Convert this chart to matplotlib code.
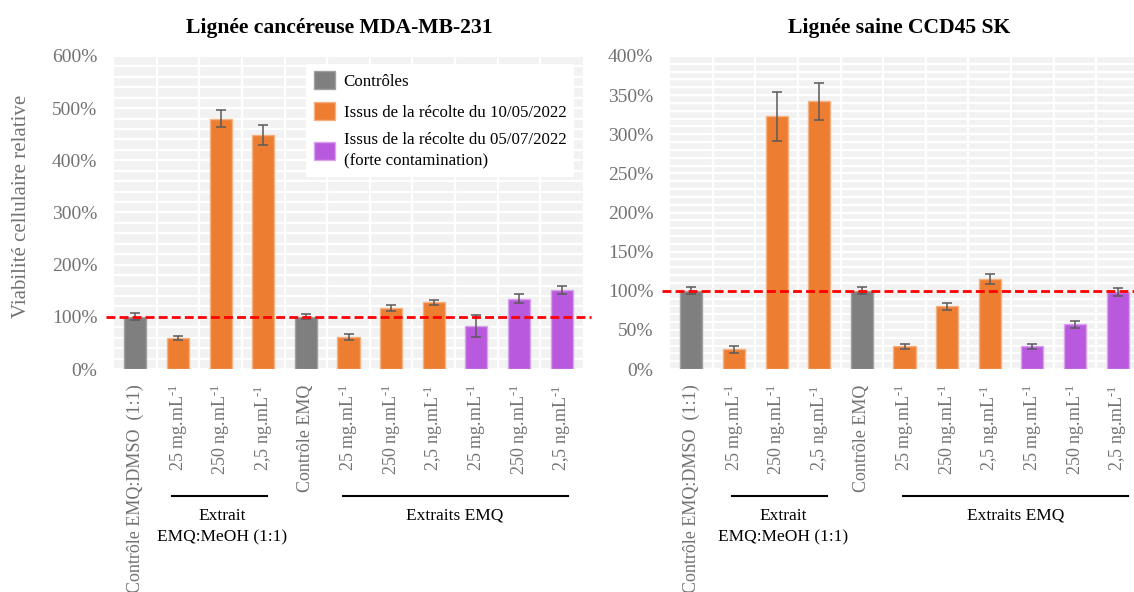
import matplotlib
matplotlib.use("Agg")
import matplotlib.pyplot as plt
from matplotlib.patches import Patch
from matplotlib.lines import Line2D
import numpy as np

plt.rcParams["font.family"] = ["Liberation Serif", "DejaVu Serif"]
plt.rcParams["mathtext.fontset"] = "custom"
plt.rcParams["mathtext.rm"] = "Liberation Serif"
plt.rcParams["mathtext.it"] = "Liberation Serif:italic"

# ---- data ----
categories = [
    "Contrôle EMQ:DMSO  (1:1)",
    "25 mg.mL$^{\\text{-}1}$", "250 ng.mL$^{\\text{-}1}$", "2,5 ng.mL$^{\\text{-}1}$",
    "Contrôle EMQ",
    "25 mg.mL$^{\\text{-}1}$", "250 ng.mL$^{\\text{-}1}$", "2,5 ng.mL$^{\\text{-}1}$",
    "25 mg.mL$^{\\text{-}1}$", "250 ng.mL$^{\\text{-}1}$", "2,5 ng.mL$^{\\text{-}1}$",
]
groups = ["ctrl", "may", "may", "may", "ctrl", "may", "may", "may", "jul", "jul", "jul"]

mda_values = [100, 60, 480, 449, 100, 61, 117, 128, 82, 135, 151]
mda_errors = [7, 3.5, 16, 19, 4.5, 6, 6.5, 5, 21, 9, 8]

ccd_values = [100, 25, 323, 342, 100, 29, 80, 115, 29, 57, 98]
ccd_errors = [4.5, 5, 31, 24, 4.5, 3, 4, 6, 3, 4.7, 5]

legend_labels = [
    "Contrôles",
    "Issus de la récolte du 10/05/2022",
    "Issus de la récolte du 05/07/2022\n(forte contamination)",
]

# ---- styles ----
fill = {"ctrl": "#7f7f7f", "may": "#ed7d31", "jul": "#b95ade"}
edge = {"ctrl": "#a0a0a0", "may": "#f4b183", "jul": "#d9a3ec"}
tick_grey = "#727272"
W, H = 1134, 592

fig = plt.figure(figsize=(W / 100, H / 100), dpi=100)


def fx(px):
    return px / W


def fy(px):
    return 1 - px / H


def panel(left_px, values, errors, ymax, ystep, minor_step, title, title_x):
    ax = fig.add_axes([fx(left_px), fy(369), fx(469), 313 / H])
    x = np.arange(len(values))
    ax.set_facecolor("#f2f2f2")
    ax.set_axisbelow(True)
    ax.bar(x, values, width=0.52,
           color=[fill[g] for g in groups],
           edgecolor=[edge[g] for g in groups], linewidth=1.0, zorder=2)
    ax.errorbar(x, values, yerr=errors, fmt="none", ecolor="#5a5a5a",
                elinewidth=1.1, capsize=3.6, capthick=1.1, zorder=3)
    ax.set_xlim(-0.5, len(values) - 0.5)
    ax.set_ylim(0, ymax)
    ax.set_yticks(np.arange(0, ymax + 1, ystep))
    ax.set_yticklabels([f"{int(v)}%" for v in np.arange(0, ymax + 1, ystep)])
    ax.set_yticks(np.arange(0, ymax + 1, minor_step), minor=True)
    ax.set_xticks(x)
    ax.set_xticklabels(categories, rotation=90)
    ax.set_xticks(np.arange(0.5, len(values) - 1, 1.0), minor=True)
    ax.grid(which="both", axis="y", color="white", linewidth=1.6)
    ax.grid(which="minor", axis="x", color="white", linewidth=1.6)
    ax.tick_params(which="both", length=0)
    ax.tick_params(axis="y", colors=tick_grey, labelsize=14, pad=12)
    ax.tick_params(axis="x", colors=tick_grey, labelsize=13, pad=11)
    for s in ax.spines.values():
        s.set_visible(False)
    # reference line at 100 %
    ax.add_line(Line2D([-0.016, 1.016], [100, 100], color="red",
                       linewidth=2.0, linestyle=(0, (3.2, 1.5)),
                       transform=ax.get_yaxis_transform(), clip_on=False, zorder=4))
    fig.text(fx(title_x), fy(28), title, ha="center", va="center",
             fontsize=15.6, fontweight="bold")
    return ax


def bracket(x0, x1, lines, cx):
    fig.add_artist(Line2D([fx(x0), fx(x1)], [fy(496), fy(496)],
                          color="black", linewidth=1.5))
    for i, t in enumerate(lines):
        fig.text(fx(cx), fy(516 + 21 * i), t, ha="center", va="center",
                 fontsize=12.5, color="black")


ax1 = panel(114, mda_values, mda_errors, 600, 100, 20,
            "Lignée cancéreuse MDA-MB-231", 339)
ax2 = panel(670, ccd_values, ccd_errors, 400, 50, 10,
            "Lignée saine CCD45 SK", 899)

fig.text(fx(22), fy(206), "Viabilité cellulaire relative", rotation=90,
         ha="center", va="center", fontsize=15, color=tick_grey)

handles = [Patch(facecolor=fill[g], edgecolor=edge[g]) for g in ["ctrl", "may", "jul"]]
leg = ax1.legend(handles, legend_labels, loc="upper left",
                 bbox_to_anchor=(0.41, 0.975), frameon=True, fancybox=False,
                 framealpha=1, edgecolor="white", fontsize=12.2,
                 handlelength=1.25, handleheight=1.25, handletextpad=0.5,
                 labelspacing=0.7, borderpad=0.45, borderaxespad=0)
leg.get_frame().set_linewidth(0)
leg.get_texts()[2].set_linespacing(1.4)

bracket(172, 267, ["Extrait", "EMQ:MeOH (1:1)"], 222)
bracket(343, 568, ["Extraits EMQ"], 455)
bracket(732, 827, ["Extrait", "EMQ:MeOH (1:1)"], 783)
bracket(903, 1128, ["Extraits EMQ"], 1016)

fig.savefig("out.png", dpi=100)
